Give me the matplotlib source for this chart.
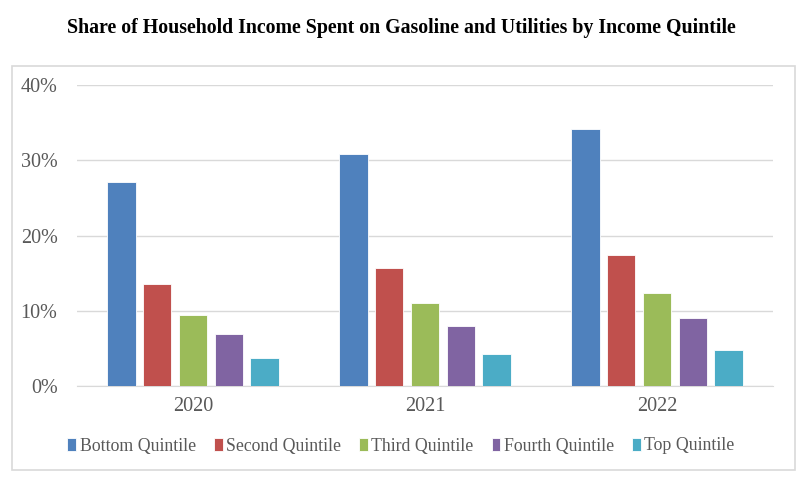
import matplotlib
matplotlib.use("Agg")
import matplotlib.pyplot as plt
from matplotlib.patches import Rectangle
import numpy as np

years = ["2020", "2021", "2022"]
series_names = ["Bottom Quintile", "Second Quintile", "Third Quintile", "Fourth Quintile", "Top Quintile"]
bottom = [27.1, 30.8, 34.1]
second = [13.6, 15.7, 17.4]
third = [9.5, 11.0, 12.4]
fourth = [6.9, 8.0, 9.0]
top = [3.7, 4.3, 4.8]
yticks = [0, 10, 20, 30, 40]
ytick_labels = ["0%", "10%", "20%", "30%", "40%"]
colors = ["#4F81BD", "#C0504D", "#9BBB59", "#8064A2", "#4BACC6"]

plt.rcParams['font.family'] = ['Liberation Serif', 'DejaVu Serif']
fig = plt.figure(figsize=(8.02, 4.78), dpi=100)
# outer chart border
fig.patches.append(Rectangle((12/802, 1-470/478), (795-12)/802, (470-66)/478,
                             transform=fig.transFigure, fill=False, edgecolor="#D9D9D9", lw=1.2))
fig.text(0.5, 1-28/478, "Share of Household Income Spent on Gasoline and Utilities by Income Quintile",
         ha="center", va="center", fontsize=14.3, fontweight="bold", color="black")

ax = fig.add_axes([77/802, 1-386/478, (773-77)/802, (386-85)/478])
data = [bottom, second, third, fourth, top]
x = np.arange(len(years))
step = 0.154
width = 0.122
for i, (vals, name, c) in enumerate(zip(data, series_names, colors)):
    ax.bar(x + (i - 2) * step, vals, width=width, color=c, label=name, edgecolor="white", linewidth=0.6, zorder=3)

ax.set_xlim(-0.5, 2.5)
ax.set_ylim(0, 40)
ax.set_yticks(yticks)
ax.set_yticklabels(ytick_labels)
ax.set_xticks(x)
ax.set_xticklabels(years)
ax.grid(axis="y", color="#D9D9D9", lw=1, zorder=0)
for s in ["top", "right", "left"]:
    ax.spines[s].set_visible(False)
ax.spines["bottom"].set_color("#D9D9D9")
ax.tick_params(axis="both", length=0, labelsize=14.5, colors="#595959")
ax.tick_params(axis="y", pad=14)
ax.tick_params(axis="x", pad=8)

handles, labels = ax.get_legend_handles_labels()
fig.legend(handles, labels, loc="center", bbox_to_anchor=(0.5, 1-446/478), ncol=5, frameon=False,
           fontsize=12.8, handlelength=0.5, handleheight=0.8, handletextpad=0.2, columnspacing=1.0,
           labelcolor="#595959")

fig.savefig("out.png", dpi=100)
